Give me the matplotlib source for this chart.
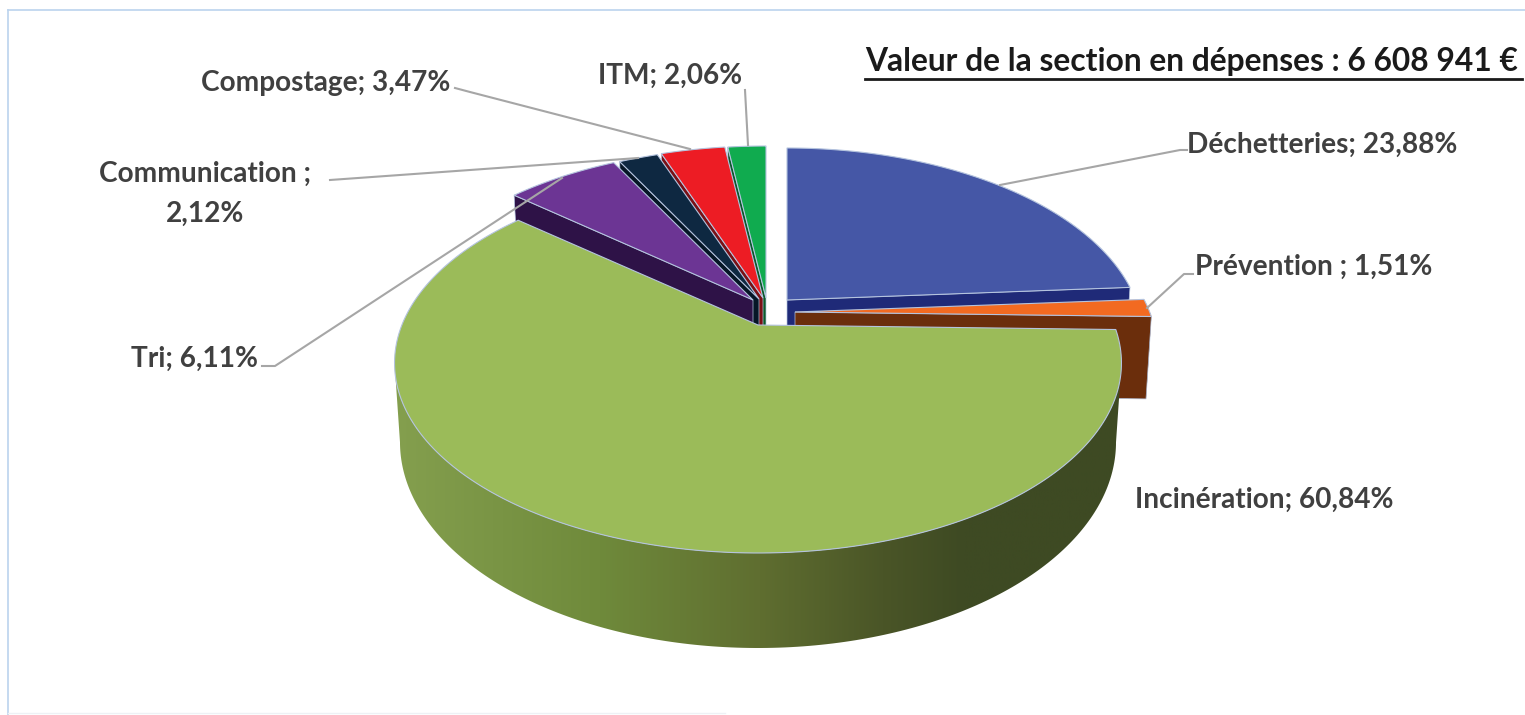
import matplotlib
matplotlib.use('Agg')
import matplotlib.pyplot as plt
from matplotlib.colors import LinearSegmentedColormap
from matplotlib.patches import Polygon
import numpy as np

plt.rcParams['font.family'] = ['Lato', 'DejaVu Sans']

title = 'Valeur de la section en dépenses : 6 608 941 €'
categories = ['Déchetteries', 'Prévention', 'Incinération', 'Tri',
              'Communication', 'Compostage', 'ITM']
values = [23.88, 1.51, 60.84, 6.11, 2.12, 3.47, 2.06]
labels = ['Déchetteries; 23,88%', 'Prévention ; 1,51%', 'Incinération; 60,84%',
          'Tri; 6,11%', 'Communication ;\n2,12%', 'Compostage; 3,47%', 'ITM; 2,06%']

top_colors = ['#4557A6', '#F26A21', '#9BBB59', '#6C3594', '#0E2841', '#ED1C24', '#10AB4F']
side_colors = ['#1F2A78', '#6B2E0C', '#5E6B2F', '#2E1247', '#061626', '#7A1015', '#0A5A2A']

# layout, in pixels of the picture
apex = {'Déchetteries': (787, 300), 'Prévention': (795, 312), 'Incinération': (758, 325),
        'Tri': (753, 300), 'Communication': (759, 299), 'Compostage': (763, 298), 'ITM': (766, 298)}
label_pos = {'Déchetteries': (1187, 145, 'left'), 'Prévention': (1195, 267, 'left'),
             'Incinération': (1135, 500, 'left'), 'Tri': (131, 359, 'left'),
             'Communication': (205, 194, 'center'), 'Compostage': (201, 83, 'left'),
             'ITM': (598, 76, 'left')}
leaders = [[(1000, 185), (1180, 150), (1187, 150)],
           [(1147, 308), (1184, 274), (1193, 274)],
           [(330, 180), (638, 158)],
           [(455, 88), (470, 92), (690, 149)],
           [(745, 90), (748, 145)],
           [(262, 366), (275, 366), (562, 178)]]

R = 354.7
S = 182.4
K = 0.2
DEPTH = 76
BOTTOM_SCALE = 0.985
width_scale = {'Déchetteries': 0.983, 'Incinération': 1.004}
depth_of = {'Prévention': 82}

fig = plt.figure(figsize=(15.25, 7.15), dpi=100)
ax = fig.add_axes([0, 0, 1, 1])
ax.set_xlim(0, 1525)
ax.set_ylim(715, 0)
ax.axis('off')

ends = np.cumsum(values) / np.sum(values) * 2 * np.pi
starts = ends - np.array(values) / np.sum(values) * 2 * np.pi


def top_point(name, a):
    u, v = np.sin(a), np.cos(a)
    w = 1 + K * v
    return apex[name][0] + width_scale.get(name, 1) * R * u / w, apex[name][1] - S * v / w


def bottom_point(name, a):
    x, y = top_point(name, a)
    w = 1 + K * np.cos(a)
    return apex[name][0] + BOTTOM_SCALE * (x - apex[name][0]), y + depth_of.get(name, DEPTH) / w


def arc(fn, name, a0, a1):
    t = np.linspace(a0, a1, 200)
    x, y = fn(name, t)
    return np.column_stack([x, y])


def apex_bottom(name):
    return apex[name][0], apex[name][1] + depth_of.get(name, DEPTH)


def draw_top(i, z):
    name = categories[i]
    pts = np.vstack([[apex[name]], arc(top_point, name, starts[i], ends[i])])
    ax.add_patch(Polygon(pts, closed=True, fc=top_colors[i], ec='#B4C3DE', lw=0.8, zorder=z))


def draw_cut(i, a, z):
    # flat face along one radius of the slice
    name = categories[i]
    pts = [apex[name], top_point(name, a), bottom_point(name, a), apex_bottom(name)]
    ax.add_patch(Polygon(pts, closed=True, fc=side_colors[i], ec='#B4C3DE', lw=0.5, zorder=z))


def draw_rim(i, a0, a1, z):
    name = categories[i]
    upper = arc(top_point, name, a0, a1)
    lower = arc(bottom_point, name, a0, a1)
    pts = np.vstack([upper, lower[::-1]])
    patch = Polygon(pts, closed=True, fc=side_colors[i], ec='none', zorder=z)
    ax.add_patch(patch)
    return patch


# back slices first, the ones nearest 12 o'clock at the very back
z = 2
for i in [6, 5, 4, 3]:
    draw_cut(i, starts[i], z)
    draw_top(i, z + 0.5)
    z += 1

# Déchetteries
draw_cut(0, ends[0], z)
draw_top(0, z + 0.5)
z += 1

# Prévention
draw_rim(1, starts[1], ends[1], z)
draw_cut(1, ends[1], z + 0.1)
draw_top(1, z + 0.5)
z += 1

# Incinération, wall only between the two widest points of the top ellipse
a_right = np.arccos(-K)
rim = draw_rim(2, a_right, 2 * np.pi - a_right, z)
rim.set_facecolor('none')
cmap = LinearSegmentedColormap.from_list('wall', [
    (0.0, '#849F4E'), (0.28, '#6F8A3B'), (0.5, '#5F6E30'),
    (0.67, '#4A5527'), (0.78, '#3E4A23'), (1.0, '#3E4A23')])
wall = ax.imshow(np.linspace(0, 1, 256).reshape(1, -1), cmap=cmap, aspect='auto',
                 extent=(395, 1125, 660, 320), zorder=z)
wall.set_clip_path(rim)
ax.set_xlim(0, 1525)
ax.set_ylim(715, 0)
draw_top(2, z + 0.5)
z += 1

# leader lines and labels
for line in leaders:
    xs, ys = zip(*line)
    ax.plot(xs, ys, color='#A6A6A6', lw=1.5, zorder=z, solid_joinstyle='round')

for name, text in zip(categories, labels):
    x, y, ha = label_pos[name]
    ax.text(x, y, text, fontsize=20.2, fontweight='bold', color='#404040', ha=ha, va='center',
            linespacing=1.68, zorder=z + 1)

ax.text(865, 62, title, fontsize=22.9, fontweight='bold', color='#1A1A1A', ha='left', va='center',
        zorder=z + 1)
ax.plot([865, 1522], [79, 79], color='#1A1A1A', lw=2, zorder=z + 1)

# thin frame of the slide
ax.plot([8, 8], [715, 10], color='#BBD3EE', lw=1.2, zorder=1)
ax.plot([8, 1525], [10, 10], color='#BBD3EE', lw=1.2, zorder=1)
ax.plot([8, 725], [713, 713], color='#EEF1F5', lw=1, zorder=1)

fig.savefig('out.png', dpi=100, facecolor='white')
